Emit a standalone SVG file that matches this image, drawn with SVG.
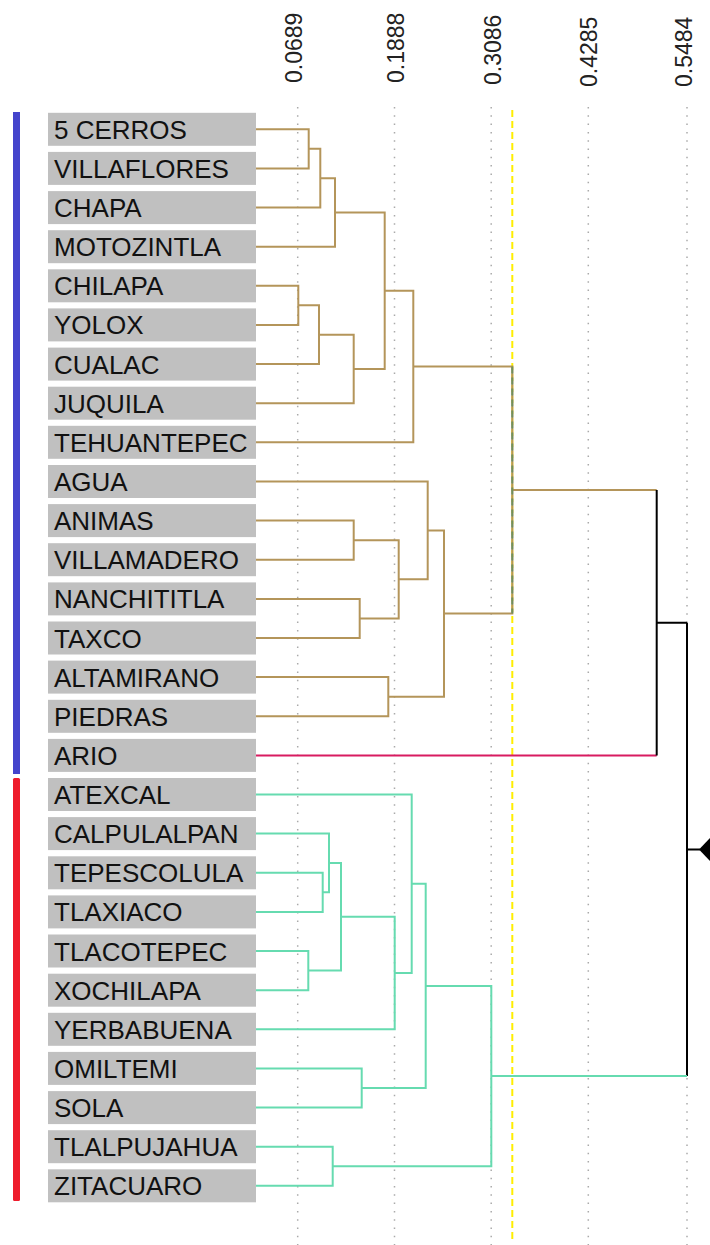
<svg xmlns="http://www.w3.org/2000/svg" width="710" height="1245" viewBox="0 0 710 1245">
<style>
.box{fill:#c0c0c0}
.lbl{font-family:"Liberation Sans",Arial,sans-serif;font-size:26px;fill:#111}
.ax{font-family:"Liberation Sans",Arial,sans-serif;font-size:23px;fill:#222}
.grid{stroke:#aaa;stroke-width:1.5;stroke-dasharray:1.5 6.8;fill:none}
.cut{stroke:#ffee00;stroke-width:2;stroke-dasharray:7 4;fill:none}
.br{stroke:#b4955a;stroke-width:2;fill:none}
.gr{stroke:#66dbb0;stroke-width:2;fill:none}
.pk{stroke:#d81b60;stroke-width:2;fill:none}
.bk{stroke:#000;stroke-width:2;fill:none}
</style>
<rect width="710" height="1245" fill="#fff"/>
<g id="axis">
<line class="grid" x1="297.7" y1="107" x2="297.7" y2="1245"/>
<line class="grid" x1="394.5" y1="107" x2="394.5" y2="1245"/>
<line class="grid" x1="491.2" y1="107" x2="491.2" y2="1245"/>
<line class="grid" x1="588.3" y1="107" x2="588.3" y2="1245"/>
<line class="grid" x1="687" y1="107" x2="687" y2="1245"/>
<text class="ax" x="302" y="83" transform="rotate(-90 302 83)">0.0689</text>
<text class="ax" x="404" y="83" transform="rotate(-90 404 83)">0.1888</text>
<text class="ax" x="500.5" y="85" transform="rotate(-90 500.5 85)">0.3086</text>
<text class="ax" x="597" y="87" transform="rotate(-90 597 87)">0.4285</text>
<text class="ax" x="692" y="87" transform="rotate(-90 692 87)">0.5484</text>
<line class="cut" x1="512.3" y1="110" x2="512.3" y2="1240"/>
</g>
<g id="groups">
<rect x="13" y="112" width="7" height="662" fill="#4444cc"/>
<rect x="13" y="778" width="7" height="423" rx="1.5" fill="#ee1c2c"/>
</g>
<g id="connectors">
<path class="br" d="M256,129.3H308.7V168.4H256M308.7,148.85H320.3V207.6H256M320.3,178.2H335V246.7H256M256,285.8H298.3V324.9H256M298.3,305.35H319V364.1H256M319,334.7H353.7V403.2H256M335,212.45H384.7V368.95H353.7M384.7,290.7H413.3V442.3H256M256,520.6H353.7V559.7H256M256,598.9H359.7V638H256M353.7,540.15H398.7V618.45H359.7M256,481.5H427.7V579.3H398.7M256,677.1H388.3V716.3H256M427.7,530.4H444V696.7H388.3M413.3,366.5H512.3V613.55H444M512.3,490H656.7"/>
<line x1="512.3" y1="366.5" x2="512.3" y2="613.55" stroke="#6f8f5f" stroke-width="2" stroke-dasharray="7 4"/>
<path class="pk" d="M256,755.4H656.7"/>
<path class="bk" d="M656.7,490V755.4M656.7,622.7H687M687,622.7V1076.1M687,849.4H700"/>
<path class="gr" d="M256,872.8H322.7V911.9H256M256,833.6H329V892.35H322.7M256,951H308.3V990.2H256M329,862.98H341V970.6H308.3M341,916.8H394.7V1029.3H256M256,794.5H411.7V973.05H394.7M256,1068.4H361.7V1107.6H256M411.7,883.8H425.7V1088H361.7M256,1146.7H332.7V1185.8H256M425.7,985.9H491.3V1166.25H332.7M491.3,1076.1H687"/>
<polygon points="699,849.4 711,837 723,849.4 711,862" fill="#000"/>
</g>
<g id="n0"><rect class="box" x="48" y="112.8" width="208" height="33"/><text class="lbl" x="54" y="138.8">5 CERROS</text></g>
<g id="n1"><rect class="box" x="48" y="151.9" width="208" height="33"/><text class="lbl" x="54" y="177.9">VILLAFLORES</text></g>
<g id="n2"><rect class="box" x="48" y="191.1" width="208" height="33"/><text class="lbl" x="54" y="217.1">CHAPA</text></g>
<g id="n3"><rect class="box" x="48" y="230.2" width="208" height="33"/><text class="lbl" x="54" y="256.2">MOTOZINTLA</text></g>
<g id="n4"><rect class="box" x="48" y="269.3" width="208" height="33"/><text class="lbl" x="54" y="295.3">CHILAPA</text></g>
<g id="n5"><rect class="box" x="48" y="308.4" width="208" height="33"/><text class="lbl" x="54" y="334.4">YOLOX</text></g>
<g id="n6"><rect class="box" x="48" y="347.6" width="208" height="33"/><text class="lbl" x="54" y="373.6">CUALAC</text></g>
<g id="n7"><rect class="box" x="48" y="386.7" width="208" height="33"/><text class="lbl" x="54" y="412.7">JUQUILA</text></g>
<g id="n8"><rect class="box" x="48" y="425.8" width="208" height="33"/><text class="lbl" x="54" y="451.8">TEHUANTEPEC</text></g>
<g id="n9"><rect class="box" x="48" y="465" width="208" height="33"/><text class="lbl" x="54" y="491">AGUA</text></g>
<g id="n10"><rect class="box" x="48" y="504.1" width="208" height="33"/><text class="lbl" x="54" y="530.1">ANIMAS</text></g>
<g id="n11"><rect class="box" x="48" y="543.2" width="208" height="33"/><text class="lbl" x="54" y="569.2">VILLAMADERO</text></g>
<g id="n12"><rect class="box" x="48" y="582.4" width="208" height="33"/><text class="lbl" x="54" y="608.4">NANCHITITLA</text></g>
<g id="n13"><rect class="box" x="48" y="621.5" width="208" height="33"/><text class="lbl" x="54" y="647.5">TAXCO</text></g>
<g id="n14"><rect class="box" x="48" y="660.6" width="208" height="33"/><text class="lbl" x="54" y="686.6">ALTAMIRANO</text></g>
<g id="n15"><rect class="box" x="48" y="699.8" width="208" height="33"/><text class="lbl" x="54" y="725.8">PIEDRAS</text></g>
<g id="n16"><rect class="box" x="48" y="738.9" width="208" height="33"/><text class="lbl" x="54" y="764.9">ARIO</text></g>
<g id="n17"><rect class="box" x="48" y="778" width="208" height="33"/><text class="lbl" x="54" y="804">ATEXCAL</text></g>
<g id="n18"><rect class="box" x="48" y="817.1" width="208" height="33"/><text class="lbl" x="54" y="843.1">CALPULALPAN</text></g>
<g id="n19"><rect class="box" x="48" y="856.3" width="208" height="33"/><text class="lbl" x="54" y="882.3">TEPESCOLULA</text></g>
<g id="n20"><rect class="box" x="48" y="895.4" width="208" height="33"/><text class="lbl" x="54" y="921.4">TLAXIACO</text></g>
<g id="n21"><rect class="box" x="48" y="934.5" width="208" height="33"/><text class="lbl" x="54" y="960.5">TLACOTEPEC</text></g>
<g id="n22"><rect class="box" x="48" y="973.7" width="208" height="33"/><text class="lbl" x="54" y="999.7">XOCHILAPA</text></g>
<g id="n23"><rect class="box" x="48" y="1012.8" width="208" height="33"/><text class="lbl" x="54" y="1038.8">YERBABUENA</text></g>
<g id="n24"><rect class="box" x="48" y="1051.9" width="208" height="33"/><text class="lbl" x="54" y="1077.9">OMILTEMI</text></g>
<g id="n25"><rect class="box" x="48" y="1091.1" width="208" height="33"/><text class="lbl" x="54" y="1117.1">SOLA</text></g>
<g id="n26"><rect class="box" x="48" y="1130.2" width="208" height="33"/><text class="lbl" x="54" y="1156.2">TLALPUJAHUA</text></g>
<g id="n27"><rect class="box" x="48" y="1169.3" width="208" height="33"/><text class="lbl" x="54" y="1195.3">ZITACUARO</text></g>
</svg>
